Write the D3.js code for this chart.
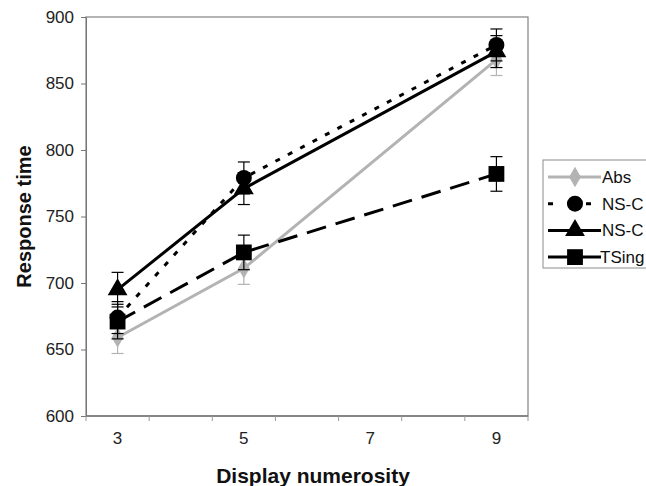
<!DOCTYPE html>
<html>
<head>
<meta charset="utf-8">
<script src="https://cdn.jsdelivr.net/npm/d3@7"></script>
<style>
  body { margin: 0; background: #fff; }
  svg { font-family: Arial, "Liberation Sans", sans-serif; display: block; }
</style>
</head>
<body>
<svg width="646" height="486"></svg>
<script>
'use strict';

// categories on the x axis (only odd ones are labelled)
var categories = [3, 4, 5, 6, 7, 8, 9];
var tickLabels = [3, 5, 7, 9];
var yTicks = [600, 650, 700, 750, 800, 850, 900];

// legend names as far as they are visible in the original (cut at the edge)
var seriesNames = ['Abs', 'NS-C', 'NS-C', 'TSing'];
var xValues = [3, 5, 9];
var absValues = [659, 711, 868];
var nsColorValues = [674, 779, 879];
var nsOriValues = [695, 771, 874];
var tsingValues = [671, 723, 782];
var absErr = [12, 12, 12];
var nsColorErr = [12, 12, 12];
var nsOriErr = [13, 12, 12];
var tsingErr = [13, 13, 13];

var svg = d3.select('svg');
var plotLeft = 86, plotRight = 528, plotTop = 17, plotBottom = 416;

var x = d3.scaleBand().domain(categories).range([plotLeft, plotRight]);
var y = d3.scaleLinear().domain([600, 900]).range([plotBottom, plotTop]);
function cx(v) { return x(v) + x.bandwidth() / 2; }

// plot frame
svg.append('rect')
    .attr('x', plotLeft).attr('y', plotTop)
    .attr('width', plotRight - plotLeft).attr('height', plotBottom - plotTop)
    .attr('fill', 'none').attr('stroke', '#8c8c8c').attr('stroke-width', 1.3);

// y axis
var yAxis = svg.append('g')
    .attr('transform', 'translate(' + plotLeft + ',0)')
    .call(d3.axisLeft(y).tickValues(yTicks).tickSize(5).tickPadding(7));
yAxis.select('.domain').attr('stroke', '#777');
yAxis.selectAll('.tick line').attr('stroke', '#777');
yAxis.selectAll('text').attr('font-size', 17).attr('fill', '#222')
    .attr('font-family', 'Arial, "Liberation Sans", sans-serif');

// x axis: ticks at category boundaries
var xAxis = svg.append('g').attr('transform', 'translate(0,' + plotBottom + ')');
xAxis.append('line').attr('x1', plotLeft).attr('x2', plotRight)
    .attr('stroke', '#777').attr('stroke-width', 1.3);
xAxis.selectAll('.xt')
    .data(categories.concat(['end']))
    .enter().append('line')
    .attr('x1', function(d) { return d === 'end' ? plotRight : x(d); })
    .attr('x2', function(d) { return d === 'end' ? plotRight : x(d); })
    .attr('y1', 0).attr('y2', 5)
    .attr('stroke', '#999');
xAxis.selectAll('.xl')
    .data(tickLabels)
    .enter().append('text')
    .attr('x', function(d) { return cx(d); })
    .attr('y', 28)
    .attr('text-anchor', 'middle')
    .attr('font-size', 17).attr('fill', '#222')
    .text(function(d) { return d; });

// axis titles
svg.append('text')
    .attr('transform', 'translate(31,' + ((plotTop + plotBottom) / 2) + ') rotate(-90)')
    .attr('text-anchor', 'middle')
    .attr('font-size', 20).attr('font-weight', 'bold').attr('fill', '#111')
    .text('Response time');
svg.append('text')
    .attr('x', (plotLeft + plotRight) / 2 + 6).attr('y', 483)
    .attr('text-anchor', 'middle')
    .attr('font-size', 21).attr('font-weight', 'bold').attr('fill', '#111')
    .text('Display numerosity');

var series = [
    {name: seriesNames[0], values: absValues, err: absErr, color: '#b3b3b3', dash: null, marker: 'diamond'},
    {name: seriesNames[1], values: nsColorValues, err: nsColorErr, color: '#000', dash: '5,9', marker: 'circle'},
    {name: seriesNames[2], values: nsOriValues, err: nsOriErr, color: '#000', dash: null, marker: 'triangle'},
    {name: seriesNames[3], values: tsingValues, err: tsingErr, color: '#000', dash: '20,10', marker: 'square'}
];

var symbols = {
    diamond: d3.symbol().type(d3.symbolDiamond).size(120),
    circle: d3.symbol().type(d3.symbolCircle).size(200),
    triangle: d3.symbol().type(d3.symbolTriangle).size(170),
    square: d3.symbol().type(d3.symbolSquare).size(250)
};

var line = d3.line()
    .x(function(d) { return cx(d.x); })
    .y(function(d) { return y(d.v); });

series.forEach(function(s) {
    var pts = xValues.map(function(xv, i) { return {x: xv, v: s.values[i], e: s.err[i]}; });
    var g = svg.append('g');

    g.append('path')
        .attr('d', line(pts))
        .attr('fill', 'none')
        .attr('stroke', s.color)
        .attr('stroke-width', 3)
        .attr('stroke-dasharray', s.dash);

    // error bars
    var eb = g.selectAll('.err').data(pts).enter().append('g');
    eb.append('line')
        .attr('x1', function(d) { return cx(d.x); })
        .attr('x2', function(d) { return cx(d.x); })
        .attr('y1', function(d) { return y(d.v - d.e); })
        .attr('y2', function(d) { return y(d.v + d.e); })
        .attr('stroke', s.color).attr('stroke-width', 1.2);
    [-1, 1].forEach(function(sign) {
        eb.append('line')
            .attr('x1', function(d) { return cx(d.x) - 6; })
            .attr('x2', function(d) { return cx(d.x) + 6; })
            .attr('y1', function(d) { return y(d.v + sign * d.e); })
            .attr('y2', function(d) { return y(d.v + sign * d.e); })
            .attr('stroke', s.color).attr('stroke-width', 1.2);
    });

    g.selectAll('.mk').data(pts).enter().append('path')
        .attr('d', symbols[s.marker])
        .attr('transform', function(d) { return 'translate(' + cx(d.x) + ',' + y(d.v) + ')'; })
        .attr('fill', s.color);
});

// legend, running off the right edge like the original
var legend = svg.append('g');
legend.append('rect')
    .attr('x', 543).attr('y', 160)
    .attr('width', 130).attr('height', 108)
    .attr('fill', '#fff').attr('stroke', '#8c8c8c').attr('stroke-width', 1);

var legendDash = [null, '5,14', null, null];
series.forEach(function(s, i) {
    var ly = 177 + i * 26.7;
    legend.append('line')
        .attr('x1', 548).attr('x2', 601)
        .attr('y1', ly).attr('y2', ly)
        .attr('stroke', s.color).attr('stroke-width', 3)
        .attr('stroke-dasharray', legendDash[i]);
    legend.append('path')
        .attr('d', symbols[s.marker])
        .attr('transform', 'translate(575,' + ly + ')')
        .attr('fill', s.color);
    legend.append('text')
        .attr('x', i === 3 ? 600 : 602).attr('y', ly + 6)
        .attr('font-size', 17).attr('fill', '#111')
        .text(s.name);
});
</script>
</body>
</html>
